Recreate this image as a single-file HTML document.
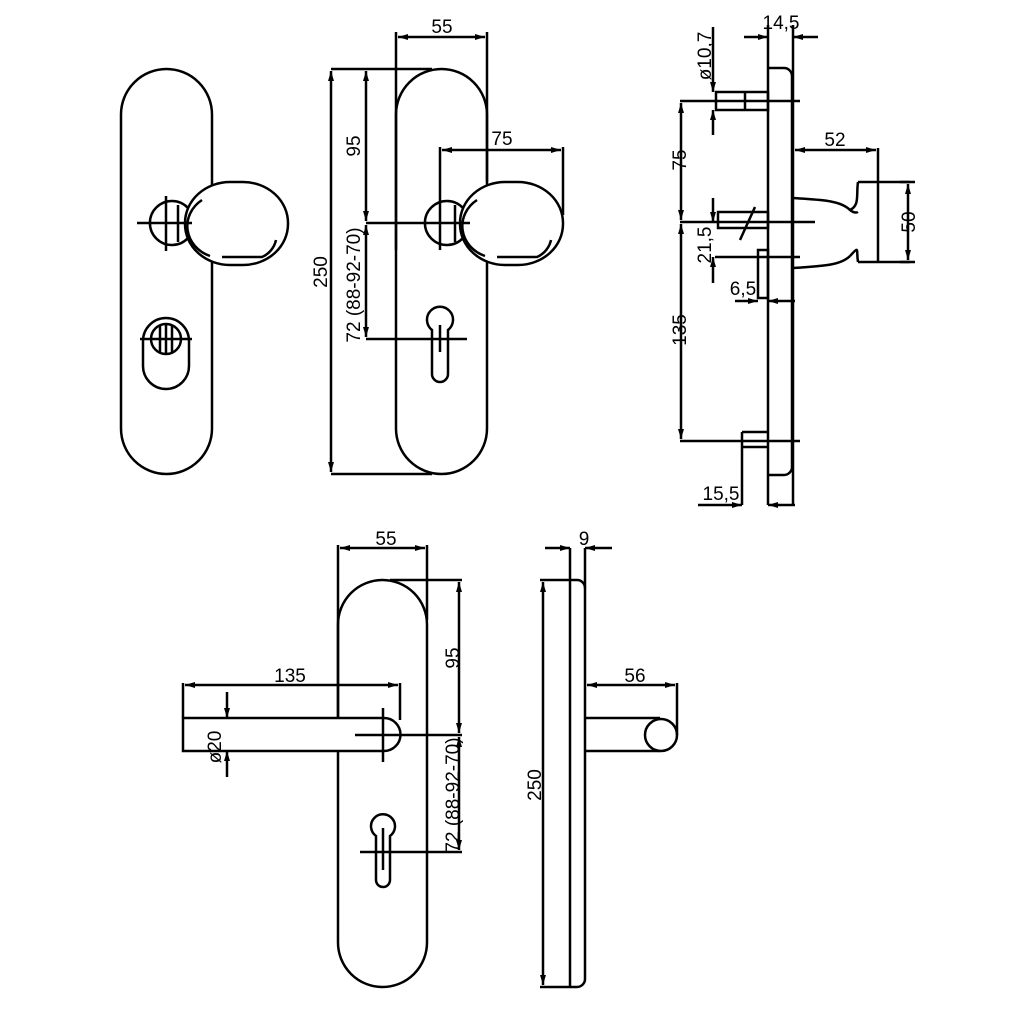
<!DOCTYPE html>
<html><head><style>html,body{margin:0;padding:0;background:#fff}svg{display:block}</style></head><body>
<svg width="1024" height="1024" viewBox="0 0 1024 1024" xmlns="http://www.w3.org/2000/svg" font-family="Liberation Sans, sans-serif" font-size="19">
<defs>
<marker id="a" viewBox="0 0 10 6" refX="10" refY="3" markerWidth="10" markerHeight="6" orient="auto-start-reverse" markerUnits="userSpaceOnUse"><path d="M0,0L10,3L0,6z" fill="#000"/></marker>
</defs>
<g fill="none" stroke="#000" stroke-width="2.5">
<!-- View 1 -->
<rect x="121" y="69" width="91" height="405" rx="45.5"/>
<path d="M188,208 A22,22 0 1 0 188,238" fill="#fff"/>
<rect x="185" y="182" width="103" height="83" rx="45" ry="41" fill="#fff"/>
<path d="M202,200 A35,32 0 0 0 210,256"/><path d="M222,257 L262,257 A24,24 0 0 0 276,240"/>
<path d="M137,223 H192 M166,196 V251 M178,205 V242"/>
<rect x="143" y="318" width="46" height="71" rx="23"/>
<circle cx="166" cy="339" r="15"/>
<path d="M140,339 H192 M166,325 V353 M160,325 V353 M172,325 V353"/>
<!-- View 2 -->
<rect x="396" y="69" width="91" height="405" rx="45.5"/>
<path d="M463,208 A22,22 0 1 0 463,238" fill="#fff"/>
<rect x="460" y="182" width="103" height="83" rx="45" ry="41" fill="#fff"/>
<path d="M477,200 A35,32 0 0 0 485,256"/><path d="M497,257 L537,257 A24,24 0 0 0 551,240"/>
<path d="M455,205 V242"/>
<path d="M432,330 A13,13 0 1 1 448,330 L448,374 A8,8 0 0 1 432,374 Z"/>
<path d="M396,32 V250 M487,32 V182 M440,147 V250 M563,147 V215"/>
<path d="M331,69 H432 M331,474 H432 M366,223 H470 M366,339 H467 M440,325 V352"/>
<path d="M398,37 H485" marker-start="url(#a)" marker-end="url(#a)"/>
<path d="M442,150 H561" marker-start="url(#a)" marker-end="url(#a)"/>
<path d="M331,71 V472" marker-start="url(#a)" marker-end="url(#a)"/>
<path d="M366,71 V221" marker-start="url(#a)" marker-end="url(#a)"/>
<path d="M366,225 V337" marker-start="url(#a)" marker-end="url(#a)"/>
<!-- View 3 side -->
<path d="M768,25 V505 M793,25 V505"/>
<path d="M768,68 H784 A8,8 0 0 1 792,76 V467 A8,8 0 0 1 784,475 H768"/>
<rect x="716" y="92" width="52" height="18"/><path d="M745,92 V110"/>
<rect x="718" y="212" width="50" height="16"/><path d="M740,240 L755,207"/>
<rect x="758" y="250" width="10" height="48"/>
<path d="M742,432 V505 M742,432 H768 M742,447 H768"/>
<path d="M680,101 H800 M680,222 H815 M715,257 H800 M680,441 H800"/>
<path d="M793,198 C820,200 840,200 850,210 C855,214 858,212 858,212 M793,268 C820,266 840,266 850,256"/>
<path d="M858,182 H910 M858,262 H910 M858,182 C856,195 860,205 850,210 M858,262 C856,250 860,245 850,256 M878,148 V262"/>
<path d="M744,37 H768" marker-end="url(#a)"/><path d="M818,37 H793" marker-end="url(#a)"/>
<path d="M713,27 V92" marker-end="url(#a)"/><path d="M713,135 V110" marker-end="url(#a)"/>
<path d="M681,103 V220" marker-start="url(#a)" marker-end="url(#a)"/>
<path d="M681,224 V439" marker-start="url(#a)" marker-end="url(#a)"/>
<path d="M713,198 V222" marker-end="url(#a)"/><path d="M713,283 V257" marker-end="url(#a)"/>
<path d="M735,301 H758" marker-end="url(#a)"/><path d="M795,301 H768" marker-end="url(#a)"/>
<path d="M698,505 H742" marker-end="url(#a)"/><path d="M795,505 H768" marker-end="url(#a)"/>
<path d="M795,150 H876" marker-start="url(#a)" marker-end="url(#a)"/>
<path d="M908,184 V260" marker-start="url(#a)" marker-end="url(#a)"/>
<path d="M900,182 H915 M900,262 H915"/>
<!-- View 4 -->
<rect x="338" y="580" width="89" height="407" rx="44.5"/>
<path d="M183,718 H384 A16.5,16.5 0 0 1 384,751 H183 Z" fill="#fff"/>
<path d="M383,708 V762 M355,735 H462 M338,545 V718 M427,545 V620 M390,580 H462 M183,683 V718 M400,683 V720"/>
<path d="M376,836 A12,12 0 1 1 390,836 L390,880 A7,7 0 0 1 376,880 Z"/>
<path d="M360,852 H462 M383,828 V870"/>
<path d="M340,548 H425" marker-start="url(#a)" marker-end="url(#a)"/>
<path d="M185,685 H398" marker-start="url(#a)" marker-end="url(#a)"/>
<path d="M459,582 V733" marker-start="url(#a)" marker-end="url(#a)"/>
<path d="M459,737 V850" marker-start="url(#a)" marker-end="url(#a)"/>
<path d="M227,692 V718" marker-end="url(#a)"/><path d="M227,777 V751" marker-end="url(#a)"/>
<!-- View 5 -->
<path d="M540,580 H577 A8,8 0 0 1 585,588 V979 A8,8 0 0 1 577,987 H540"/>
<path d="M570,548 V987 M585,548 V588"/>
<path d="M585,718 H660 M585,751 H660 M677,683 V735"/>
<circle cx="661" cy="735" r="16"/>
<path d="M545,548 H570" marker-end="url(#a)"/><path d="M612,548 H585" marker-end="url(#a)"/>
<path d="M543,582 V985" marker-start="url(#a)" marker-end="url(#a)"/>
<path d="M587,685 H675" marker-start="url(#a)" marker-end="url(#a)"/>
</g>
<g fill="#000" stroke="none">
<text x="442" y="33" text-anchor="middle">55</text>
<text x="502" y="145" text-anchor="middle">75</text>
<text transform="translate(327,272) rotate(-90)" text-anchor="middle">250</text>
<text transform="translate(360,146) rotate(-90)" text-anchor="middle">95</text>
<text transform="translate(360,285) rotate(-90)" text-anchor="middle">72 (88-92-70)</text>
<text x="781" y="29" text-anchor="middle">14,5</text>
<text transform="translate(711,56) rotate(-90)" text-anchor="middle">ø10,7</text>
<text transform="translate(686,160) rotate(-90)" text-anchor="middle">75</text>
<text transform="translate(711,245) rotate(-90)" text-anchor="middle">21,5</text>
<text x="743" y="295" text-anchor="middle">6,5</text>
<text transform="translate(686,330) rotate(-90)" text-anchor="middle">135</text>
<text x="721" y="500" text-anchor="middle">15,5</text>
<text x="835" y="146" text-anchor="middle">52</text>
<text transform="translate(915,222) rotate(-90)" text-anchor="middle">50</text>
<text x="386" y="545" text-anchor="middle">55</text>
<text x="290" y="682" text-anchor="middle">135</text>
<text transform="translate(221,747) rotate(-90)" text-anchor="middle">ø20</text>
<text transform="translate(459,658) rotate(-90)" text-anchor="middle">95</text>
<text transform="translate(459,795) rotate(-90)" text-anchor="middle">72 (88-92-70)</text>
<text x="584" y="545" text-anchor="middle">9</text>
<text transform="translate(541,785) rotate(-90)" text-anchor="middle">250</text>
<text x="635" y="682" text-anchor="middle">56</text>
</g>
</svg>
</body></html>
